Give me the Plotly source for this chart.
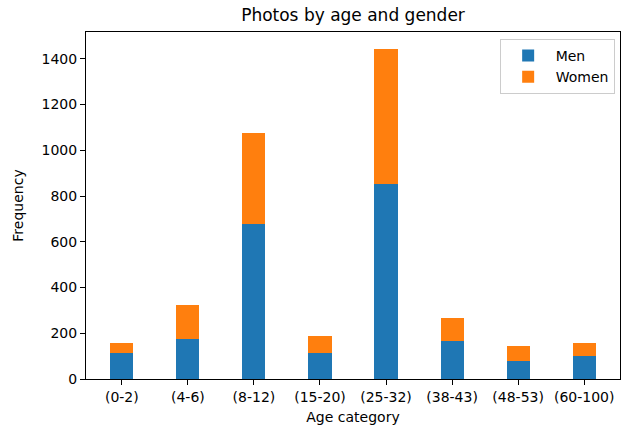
import plotly.graph_objects as go

categories = ["(0-2)", "(4-6)", "(8-12)", "(15-20)", "(25-32)", "(38-43)", "(48-53)", "(60-100)"]
men = [112, 175, 678, 112, 854, 168, 79, 101]
women = [44, 149, 399, 76, 591, 97, 64, 58]
y_ticks = [0, 200, 400, 600, 800, 1000, 1200, 1400]

font = "DejaVu Sans"
x_idx = list(range(len(categories)))
totals = [m + w for m, w in zip(men, women)]
ymax = max(totals) * 1.05

fig = go.Figure()
fig.add_trace(go.Bar(x=x_idx, y=men, name="Men", marker=dict(color="#1f77b4", line=dict(width=0)), width=0.35))
fig.add_trace(go.Bar(x=x_idx, y=women, name="Women", marker=dict(color="#ff7f0e", line=dict(width=0)), width=0.35))

fig.update_layout(
    barmode="stack",
    width=627, height=428,
    margin=dict(l=86, r=7, t=32, b=49, autoexpand=False),
    paper_bgcolor="white", plot_bgcolor="white",
    font=dict(family=font, size=14, color="black"),
    title=dict(text="Photos by age and gender", x=0.5, xref="paper", xanchor="center",
               y=1 - 15 / 428, yanchor="middle", font=dict(size=17, family=font, color="black")),
    legend=dict(x=0.99, y=0.98, xanchor="right", yanchor="top", bgcolor="rgba(255,255,255,0.8)",
                bordercolor="#cccccc", borderwidth=1, font=dict(size=14, family=font),
                traceorder="normal", itemwidth=45),
    showlegend=True,
)
fig.update_xaxes(
    tickmode="array", tickvals=x_idx, ticktext=categories,
    range=[-0.5425, len(categories) - 1 + 0.5425],
    showline=True, linecolor="black", linewidth=1, mirror=True, automargin=False,
    ticks="outside", ticklen=5, tickcolor="black", showgrid=False, zeroline=False,
    title=dict(text="Age category", font=dict(size=14, family=font), standoff=8),
    tickfont=dict(size=14, family=font),
)
fig.update_yaxes(
    tickmode="array", tickvals=y_ticks, range=[0, ymax],
    showline=True, linecolor="black", linewidth=1, mirror=True, automargin=False,
    ticks="outside", ticklen=5, tickcolor="black", showgrid=False, zeroline=False,
    title=dict(text="Frequency", font=dict(size=14, family=font), standoff=14),
    tickfont=dict(size=14, family=font),
)

fig.write_html("out.html", config={"displayModeBar": False},
               post_script="document.body.style.margin='0';")
